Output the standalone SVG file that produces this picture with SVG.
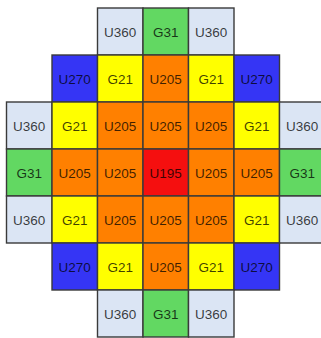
<svg xmlns="http://www.w3.org/2000/svg" width="321" height="338" viewBox="0 0 321 338">
<style>
rect{stroke:#3a3a3a;stroke-width:1.4}
.a{fill:#dbe5f4}.g{fill:#62d862}.b{fill:#3535f5}.y{fill:#ffff00}.o{fill:#ff8000}.r{fill:#f50f0f}
text{font-family:"Liberation Sans",Arial,sans-serif;font-size:13.5px;text-anchor:middle;fill:#000;fill-opacity:0.76}
</style>
<rect width="321" height="338" fill="#fff" style="stroke:none"/>
<g id="r0c2"><rect class="a" x="97.5" y="8" width="45.5" height="47"/><text x="120.25" y="36.5">U360</text></g>
<g id="r0c3"><rect class="g" x="143" y="8" width="45.5" height="47"/><text x="165.75" y="36.5">G31</text></g>
<g id="r0c4"><rect class="a" x="188.5" y="8" width="45.5" height="47"/><text x="211.25" y="36.5">U360</text></g>

<g id="r1c1"><rect class="b" x="52" y="55" width="45.5" height="47"/><text x="74.75" y="83.5">U270</text></g>
<g id="r1c2"><rect class="y" x="97.5" y="55" width="45.5" height="47"/><text x="120.25" y="83.5">G21</text></g>
<g id="r1c3"><rect class="o" x="143" y="55" width="45.5" height="47"/><text x="165.75" y="83.5">U205</text></g>
<g id="r1c4"><rect class="y" x="188.5" y="55" width="45.5" height="47"/><text x="211.25" y="83.5">G21</text></g>
<g id="r1c5"><rect class="b" x="234" y="55" width="45.5" height="47"/><text x="256.75" y="83.5">U270</text></g>

<g id="r2c0"><rect class="a" x="6.5" y="102" width="45.5" height="47"/><text x="29.25" y="130.5">U360</text></g>
<g id="r2c1"><rect class="y" x="52" y="102" width="45.5" height="47"/><text x="74.75" y="130.5">G21</text></g>
<g id="r2c2"><rect class="o" x="97.5" y="102" width="45.5" height="47"/><text x="120.25" y="130.5">U205</text></g>
<g id="r2c3"><rect class="o" x="143" y="102" width="45.5" height="47"/><text x="165.75" y="130.5">U205</text></g>
<g id="r2c4"><rect class="o" x="188.5" y="102" width="45.5" height="47"/><text x="211.25" y="130.5">U205</text></g>
<g id="r2c5"><rect class="y" x="234" y="102" width="45.5" height="47"/><text x="256.75" y="130.5">G21</text></g>
<g id="r2c6"><rect class="a" x="279.5" y="102" width="45.5" height="47"/><text x="302.25" y="130.5">U360</text></g>

<g id="r3c0"><rect class="g" x="6.5" y="149" width="45.5" height="47"/><text x="29.25" y="177.5">G31</text></g>
<g id="r3c1"><rect class="o" x="52" y="149" width="45.5" height="47"/><text x="74.75" y="177.5">U205</text></g>
<g id="r3c2"><rect class="o" x="97.5" y="149" width="45.5" height="47"/><text x="120.25" y="177.5">U205</text></g>
<g id="r3c3"><rect class="r" x="143" y="149" width="45.5" height="47"/><text x="165.75" y="177.5">U195</text></g>
<g id="r3c4"><rect class="o" x="188.5" y="149" width="45.5" height="47"/><text x="211.25" y="177.5">U205</text></g>
<g id="r3c5"><rect class="o" x="234" y="149" width="45.5" height="47"/><text x="256.75" y="177.5">U205</text></g>
<g id="r3c6"><rect class="g" x="279.5" y="149" width="45.5" height="47"/><text x="302.25" y="177.5">G31</text></g>

<g id="r4c0"><rect class="a" x="6.5" y="196" width="45.5" height="47"/><text x="29.25" y="224.5">U360</text></g>
<g id="r4c1"><rect class="y" x="52" y="196" width="45.5" height="47"/><text x="74.75" y="224.5">G21</text></g>
<g id="r4c2"><rect class="o" x="97.5" y="196" width="45.5" height="47"/><text x="120.25" y="224.5">U205</text></g>
<g id="r4c3"><rect class="o" x="143" y="196" width="45.5" height="47"/><text x="165.75" y="224.5">U205</text></g>
<g id="r4c4"><rect class="o" x="188.5" y="196" width="45.5" height="47"/><text x="211.25" y="224.5">U205</text></g>
<g id="r4c5"><rect class="y" x="234" y="196" width="45.5" height="47"/><text x="256.75" y="224.5">G21</text></g>
<g id="r4c6"><rect class="a" x="279.5" y="196" width="45.5" height="47"/><text x="302.25" y="224.5">U360</text></g>

<g id="r5c1"><rect class="b" x="52" y="243" width="45.5" height="47"/><text x="74.75" y="271.5">U270</text></g>
<g id="r5c2"><rect class="y" x="97.5" y="243" width="45.5" height="47"/><text x="120.25" y="271.5">G21</text></g>
<g id="r5c3"><rect class="o" x="143" y="243" width="45.5" height="47"/><text x="165.75" y="271.5">U205</text></g>
<g id="r5c4"><rect class="y" x="188.5" y="243" width="45.5" height="47"/><text x="211.25" y="271.5">G21</text></g>
<g id="r5c5"><rect class="b" x="234" y="243" width="45.5" height="47"/><text x="256.75" y="271.5">U270</text></g>

<g id="r6c2"><rect class="a" x="97.5" y="290" width="45.5" height="47"/><text x="120.25" y="318.5">U360</text></g>
<g id="r6c3"><rect class="g" x="143" y="290" width="45.5" height="47"/><text x="165.75" y="318.5">G31</text></g>
<g id="r6c4"><rect class="a" x="188.5" y="290" width="45.5" height="47"/><text x="211.25" y="318.5">U360</text></g>
<g id="connectors"/>
</svg>
